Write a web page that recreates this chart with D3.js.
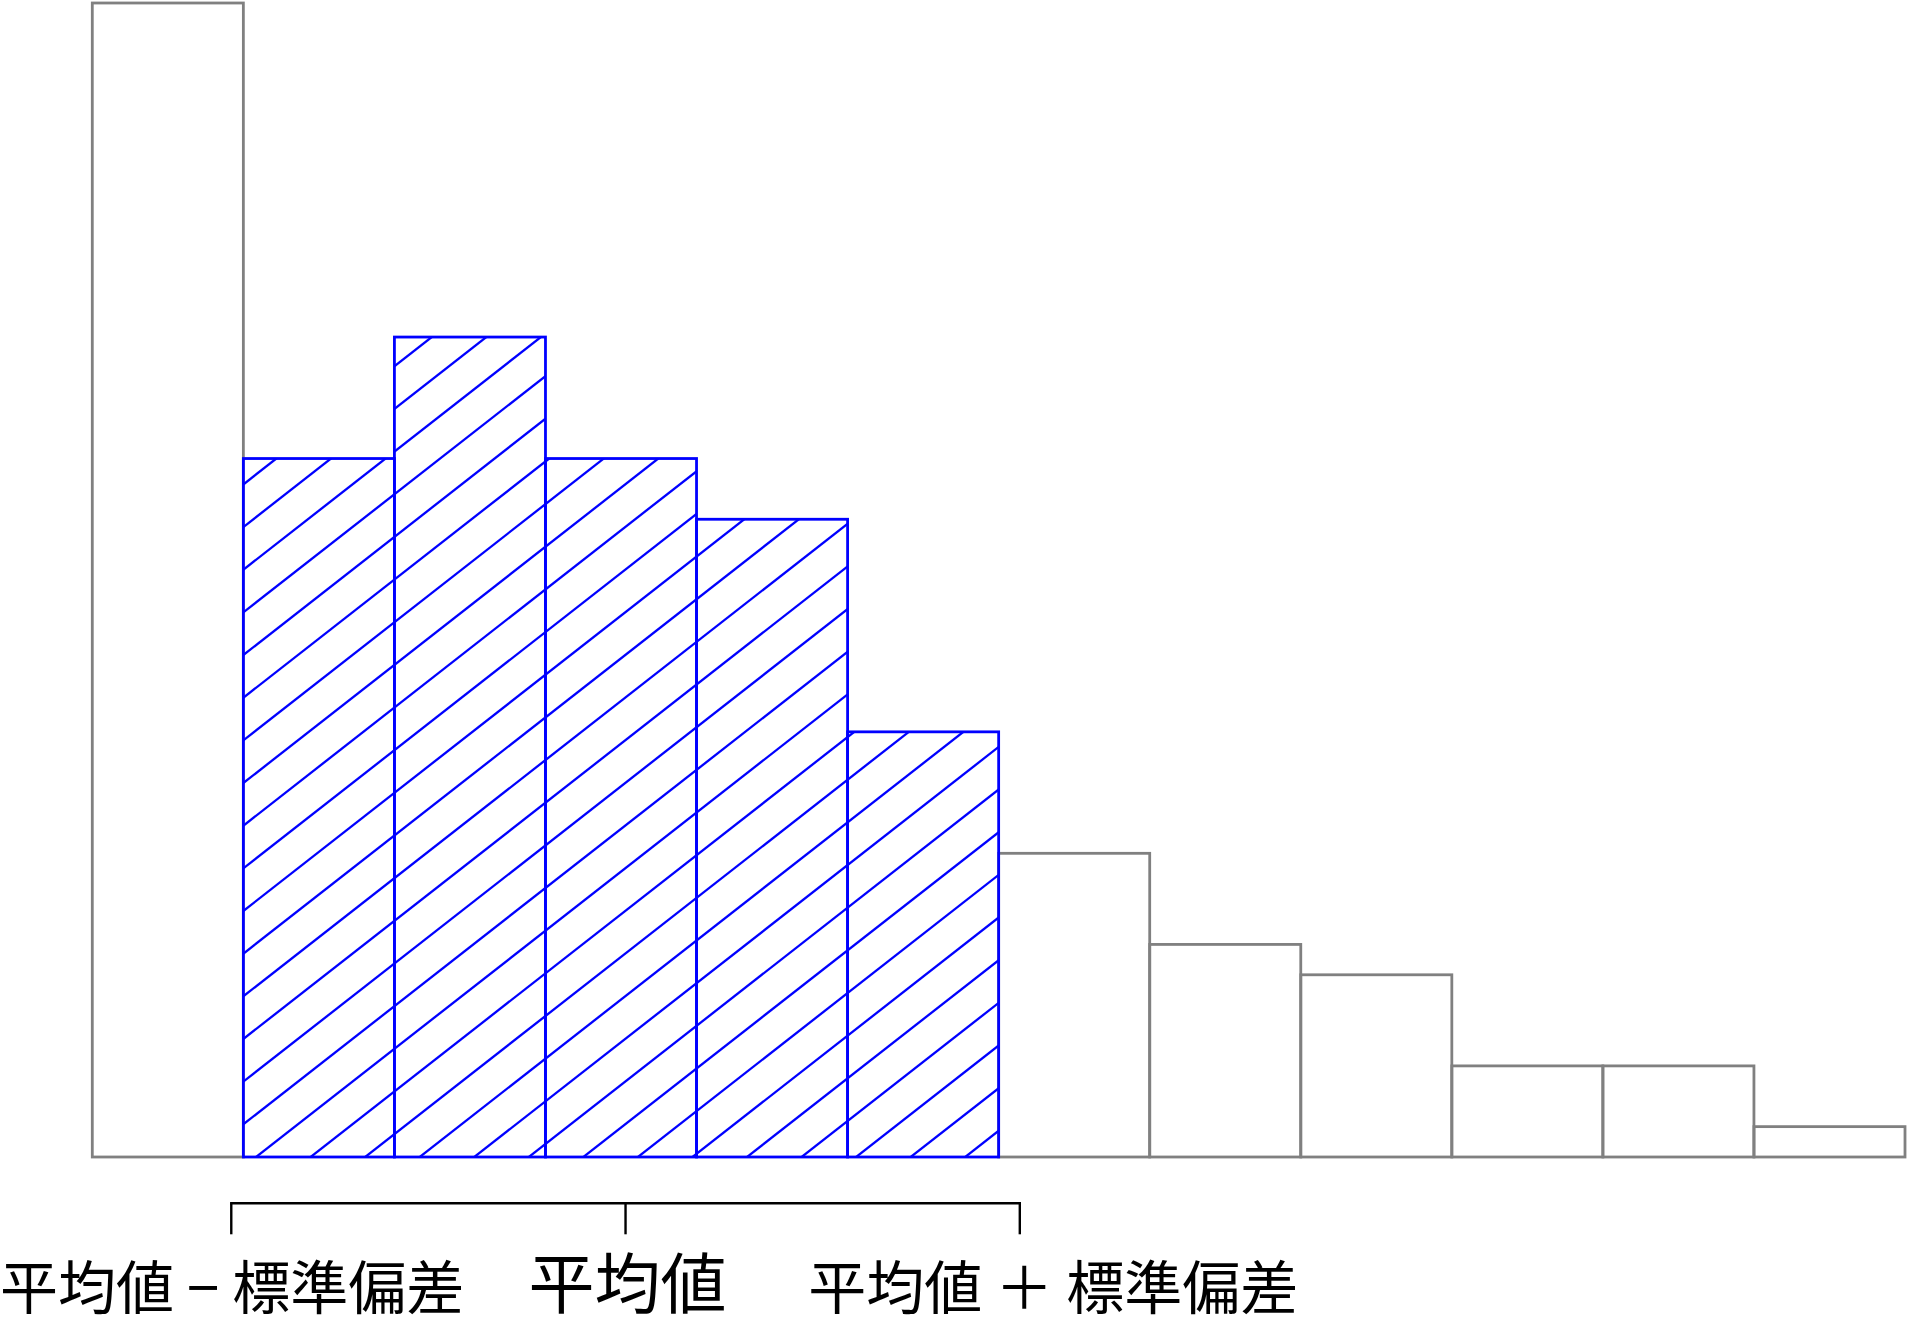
<!DOCTYPE html>
<html><head><meta charset="utf-8">
<script src="https://cdn.jsdelivr.net/npm/d3@7"></script>
<style>html,body{margin:0;padding:0;background:#fff;} svg{display:block;}</style>
</head><body>
<script>
// ---- data ----
const binIndex = [0,1,2,3,4,5,6,7,8,9,10,11];
const counts   = [38,23,27,23,21,14,10,7,6,3,3,1];
const highlighted = [false,true,true,true,true,true,false,false,false,false,false,false];
const meanBin = 3.53;
const sdBin = 2.61;
const markerLabels = ["平均値 − 標準偏差", "平均値", "平均値 ＋ 標準偏差"];

// ---- layout ----
const W = 1908, H = 1318;
const svg = d3.select("body").append("svg").attr("width", W).attr("height", H)
  .style("background", "#fff");

const x = d3.scaleLinear().domain([0, binIndex.length]).range([92.3, 1905]);
const y = d3.scaleLinear().domain([0, 38]).range([1157, 3]);

const grey = "#808080", blue = "#0000ff";

const bars = binIndex.map((b, i) => ({b, v: counts[i], hl: highlighted[i]}));

// grey (non-highlighted) bars
svg.append("g").selectAll("rect").data(bars.filter(d => !d.hl)).join("rect")
  .attr("x", d => x(d.b)).attr("width", d => x(d.b + 1) - x(d.b))
  .attr("y", d => y(d.v)).attr("height", d => y(0) - y(d.v))
  .attr("fill", "none").attr("stroke", grey).attr("stroke-width", 2.8);

// hatch clip
const defs = svg.append("defs");
const clip = defs.append("clipPath").attr("id", "hlclip");
clip.selectAll("rect").data(bars.filter(d => d.hl)).join("rect")
  .attr("x", d => x(d.b)).attr("width", d => x(d.b + 1) - x(d.b))
  .attr("y", d => y(d.v)).attr("height", d => y(0) - y(d.v));

const slope = 0.782, spacing = 54.55, phase = x(1) + 12.7, L = 1600;
const hatchIdx = d3.range(-30, 31);
svg.append("g").attr("clip-path", "url(#hlclip)")
  .selectAll("line").data(hatchIdx).join("line")
  .attr("x1", k => phase + k * spacing - L).attr("y1", y(0) + L * slope)
  .attr("x2", k => phase + k * spacing + L).attr("y2", y(0) - L * slope)
  .attr("stroke", blue).attr("stroke-width", 2.3);

// highlighted bar outlines
svg.append("g").selectAll("rect").data(bars.filter(d => d.hl)).join("rect")
  .attr("x", d => x(d.b)).attr("width", d => x(d.b + 1) - x(d.b))
  .attr("y", d => y(d.v)).attr("height", d => y(0) - y(d.v))
  .attr("fill", "none").attr("stroke", blue).attr("stroke-width", 2.8);

// bracket
const bx = [meanBin - sdBin, meanBin, meanBin + sdBin].map(v => x(v));
const by = 1203.3, tickLen = 31;
const br = svg.append("g").attr("stroke", "#000").attr("stroke-width", 2.4).attr("fill", "none");
br.append("line").attr("x1", bx[0] - 1.2).attr("x2", bx[2] + 1.2).attr("y1", by).attr("y2", by);
br.selectAll("line.t").data(bx).join("line").attr("class", "t")
  .attr("x1", d => d).attr("x2", d => d).attr("y1", by).attr("y2", by + tickLen);

// labels
const labelCfg = [
  {cx: bx[0] + 0.8,  size: 58, base: 1309},
  {cx: bx[1] + 2,    size: 66, base: 1308},
  {cx: bx[2] + 33.5, size: 58, base: 1309}
];
svg.append("g").selectAll("text").data(markerLabels).join("text")
  .attr("x", (d, i) => labelCfg[i].cx).attr("y", (d, i) => labelCfg[i].base)
  .attr("text-anchor", "middle")
  .attr("font-family", "'Noto Sans CJK JP', 'Noto Sans CJK SC', sans-serif")
  .attr("font-size", (d, i) => labelCfg[i].size)
  .attr("fill", "#000")
  .text(d => d);
</script>
</body></html>
